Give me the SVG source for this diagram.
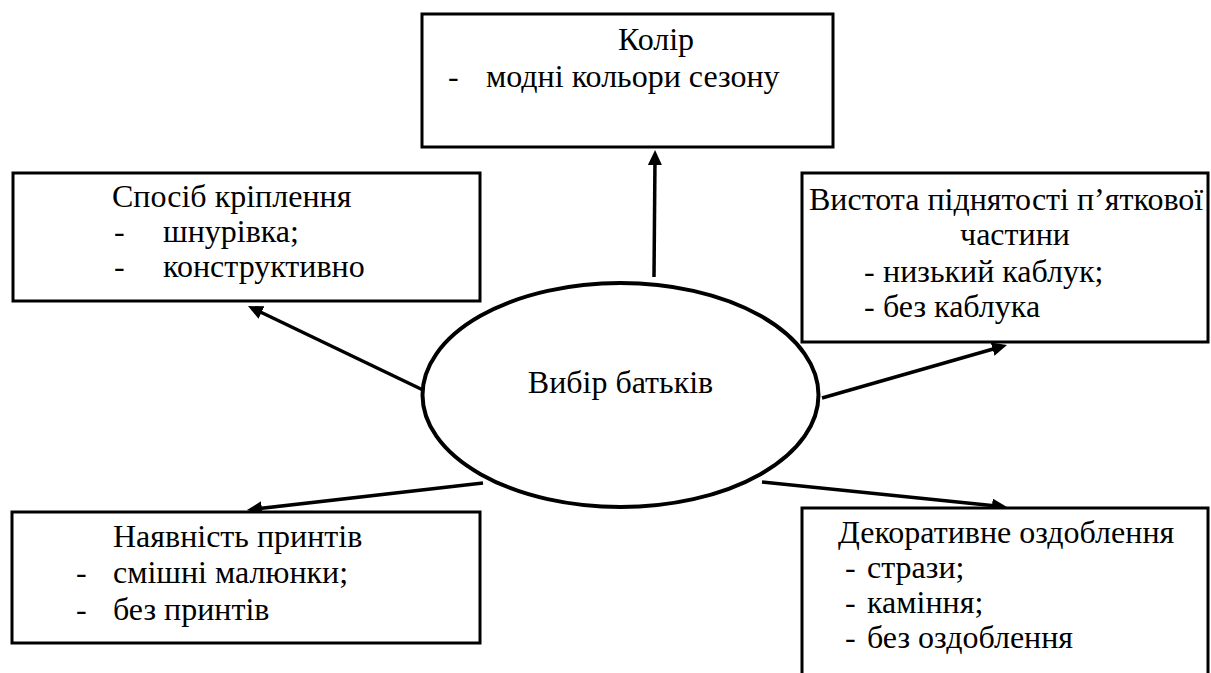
<svg xmlns="http://www.w3.org/2000/svg" width="1211" height="673" viewBox="0 0 1211 673">
<defs>
<style>
.box{fill:#fff;stroke:#000;stroke-width:3}
.t{font-family:"Liberation Serif","Times New Roman",serif;font-size:32px;fill:#000}
.c{text-anchor:middle}
.con{stroke:#000;stroke-width:3.5;fill:none;marker-end:url(#ah)}
</style>
<marker id="ah" markerUnits="userSpaceOnUse" markerWidth="16" markerHeight="16" refX="7" refY="7" orient="auto" viewBox="0 0 16 16">
<path d="M0,0 L15,7 L0,14 z" fill="#000"/>
</marker>
</defs>
<rect width="1211" height="673" fill="#fff"/>
<g id="connectors">
<line class="con" x1="654" y1="277" x2="655" y2="158"/>
<line class="con" x1="423" y1="390" x2="255.2" y2="309.5"/>
<line class="con" x1="822" y1="398" x2="999.3" y2="347.2"/>
<line class="con" x1="483" y1="483" x2="254.9" y2="509.1"/>
<line class="con" x1="762" y1="482" x2="999" y2="506.2"/>
</g>
<g id="center">
<ellipse cx="620.5" cy="395" rx="198" ry="112" fill="#fff" stroke="#000" stroke-width="4"/>
<text class="t c" x="620.5" y="393">Вибір батьків</text>
</g>
<g id="kolir">
<rect class="box" x="422" y="14" width="411" height="133"/>
<text class="t c" x="656" y="50">Колір</text>
<text class="t" x="448" y="87">-</text>
<text class="t" x="486" y="87">модні кольори сезону</text>
</g>
<g id="kriplennia">
<rect class="box" x="13" y="173" width="467" height="128"/>
<text class="t" x="112" y="207">Спосіб кріплення</text>
<text class="t" x="114" y="242">-</text>
<text class="t" x="163" y="242">шнурівка;</text>
<text class="t" x="114" y="277">-</text>
<text class="t" x="163" y="277">конструктивно</text>
</g>
<g id="vystota">
<rect class="box" x="802" y="173" width="406" height="169"/>
<text class="t" x="809" y="210">Вистота піднятості п’яткової</text>
<text class="t c" x="1015" y="245">частини</text>
<text class="t" x="864" y="282">-</text>
<text class="t" x="883" y="282">низький каблук;</text>
<text class="t" x="864" y="317">-</text>
<text class="t" x="883" y="317">без каблука</text>
</g>
<g id="prynty">
<rect class="box" x="12" y="512" width="468" height="131"/>
<text class="t" x="113" y="547">Наявність принтів</text>
<text class="t" x="76" y="583">-</text>
<text class="t" x="113" y="583">смішні малюнки;</text>
<text class="t" x="76" y="620">-</text>
<text class="t" x="113" y="620">без принтів</text>
</g>
<g id="ozdoblennia">
<rect class="box" x="802" y="508" width="406" height="190"/>
<text class="t" x="838" y="543">Декоративне оздоблення</text>
<text class="t" x="845" y="578">-</text>
<text class="t" x="867" y="578">стрази;</text>
<text class="t" x="845" y="613">-</text>
<text class="t" x="867" y="613">каміння;</text>
<text class="t" x="845" y="648">-</text>
<text class="t" x="867" y="648">без оздоблення</text>
</g>
</svg>
